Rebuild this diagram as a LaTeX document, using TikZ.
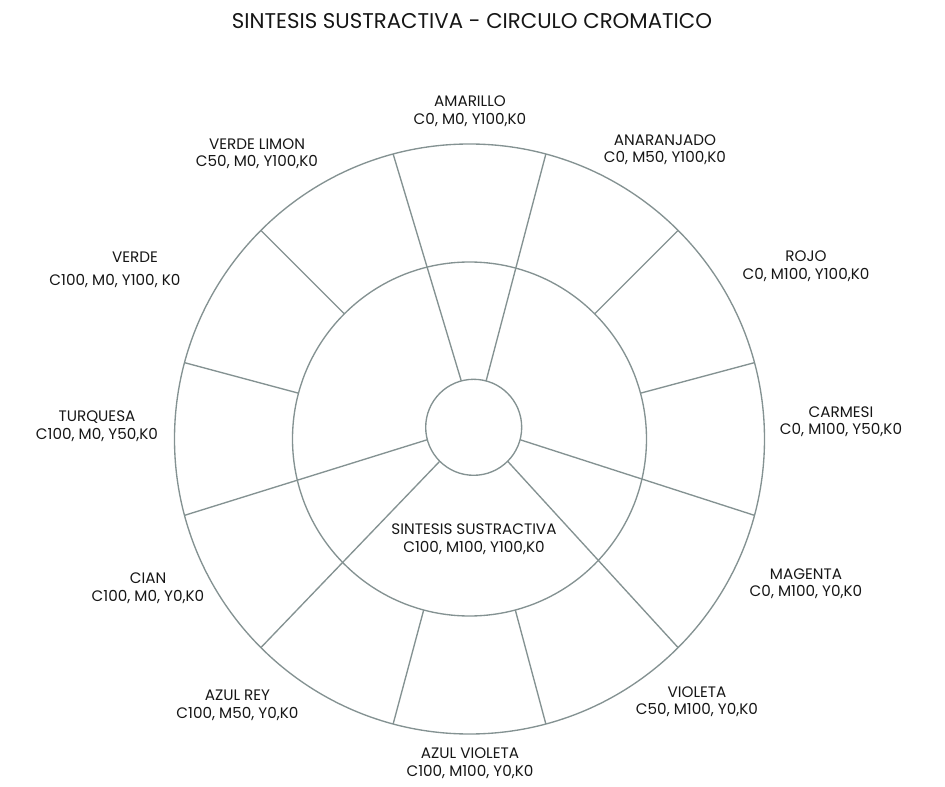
\documentclass[tikz,border=0pt]{standalone}
\usepackage{fontspec}
\setmainfont{Poppins}
\definecolor{linea}{RGB}{132,146,146}
\definecolor{texto}{RGB}{22,22,22}
\tikzset{
  aro/.style={circle,draw=linea,line width=1.35pt,inner sep=0pt,outer sep=0pt},
  radio/.style={draw=linea,line width=1.35pt},
  etiqueta/.style={align=center,text=texto,inner sep=0pt,
    font=\fontsize{15.2}{17.5}\selectfont},
  titulo/.style={text=texto,inner sep=0pt,font=\fontsize{21.3}{24}\selectfont}
}

\begin{document}
\begin{tikzpicture}[x=1pt,y=1pt]
\useasboundingbox (-469.5,-348) rectangle (475.5,439);

% circulos
\node[aro,minimum size=590pt] (exterior) at (0,0) {};
\node[aro,minimum size=354pt] (medio) at (0,0) {};
\node[aro,minimum size=96pt] (centro) at (4.2,11.7) {};

% radios largos (primarios)
\draw[radio]
(centro.75) -- (exterior.75)
(centro.105) -- (exterior.105)
(centro.-15) -- (exterior.-15)
(centro.-45) -- (exterior.-45)
(centro.195) -- (exterior.195)
(centro.225) -- (exterior.225);
% radios cortos
\draw[radio]
(medio.45) -- (exterior.45)
(medio.15) -- (exterior.15)
(medio.135) -- (exterior.135)
(medio.165) -- (exterior.165)
(medio.-75) -- (exterior.-75)
(medio.-105) -- (exterior.-105);

\node[titulo] (titulo) at (2.5,418) {SINTESIS SUSTRACTIVA - CIRCULO CROMATICO};

\node[etiqueta] (amarillo) at (0.5,328) {AMARILLO\\C0, M0, Y100,K0};
\node[etiqueta] (anaranjado) at (195.5,289.5) {ANARANJADO\\C0, M50, Y100,K0};
\node[etiqueta] (rojo) at (336.5,173) {ROJO\\C0, M100, Y100,K0};
\node[etiqueta] (carmesi) at (371.5,17.5) {CARMESI\\C0, M100, Y50,K0};
\node[etiqueta] (magenta) at (336.5,-144.5) {MAGENTA\\C0, M100, Y0,K0};
\node[etiqueta] (violeta) at (227.5,-262.5) {VIOLETA\\C50, M100, Y0,K0};
\node[etiqueta] (azulvioleta) at (0.5,-324) {AZUL VIOLETA\\C100, M100, Y0,K0};
\node[etiqueta] (azulrey) at (-232,-266.5) {AZUL REY\\C100, M50, Y0,K0};
\node[etiqueta] (cian) at (-321.5,-149) {CIAN\\C100, M0, Y0,K0};
\node[etiqueta] (turquesa) at (-372.5,13) {TURQUESA\\C100, M0, Y50,K0};
\node[etiqueta] (verde) at (-334.5,182) {VERDE};
\node[etiqueta] (verdecmyk) at (-354.5,158) {C100, M0, Y100, K0};
\node[etiqueta] (verdelimon) at (-212.5,285.5) {VERDE LIMON\\C50, M0, Y100,K0};
\node[etiqueta] (sintesis) at (4.5,-100) {SINTESIS SUSTRACTIVA\\C100, M100, Y100,K0};
\end{tikzpicture}
\end{document}
